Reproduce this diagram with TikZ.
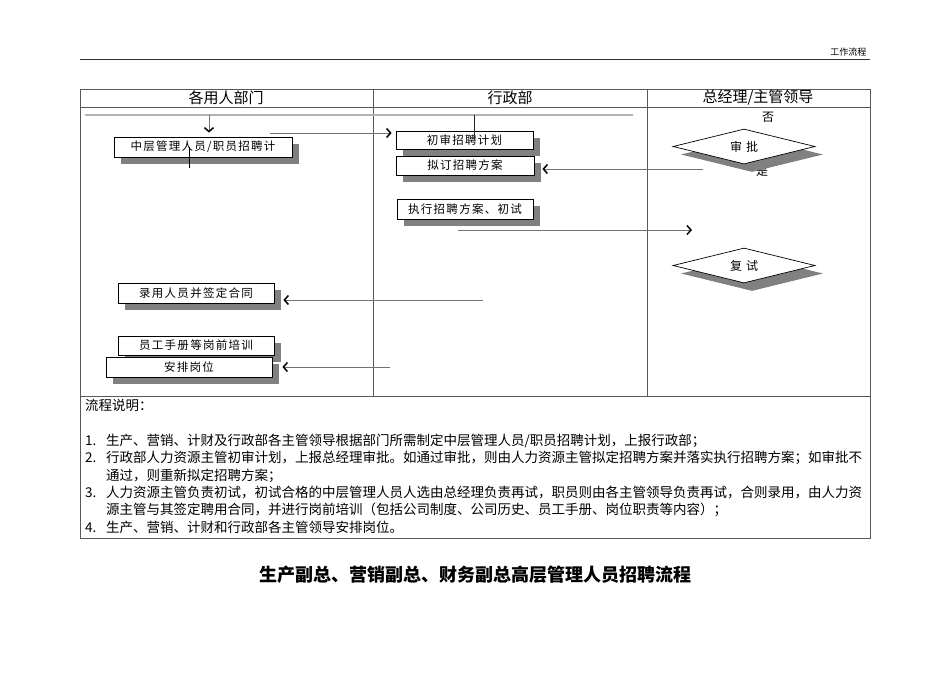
\documentclass[tikz,border=0pt]{standalone}
\usepackage{fontspec}
\setmainfont{Noto Sans CJK SC}
\newfontfamily\boxfont{Noto Sans CJK SC}[LetterSpace=11]
\usetikzlibrary{shapes.geometric,shadows,arrows.meta}

\begin{document}
\begin{tikzpicture}[x=1pt,y=-1pt,
    grid/.style={draw=black!65,line width=0.8pt},
    box/.style={draw=black,fill=white,line width=0.8pt,inner sep=0pt,
      font=\boxfont\fontsize{11.5}{13}\selectfont,
      drop shadow={shadow xshift=7pt,shadow yshift=-7pt,fill=black!50,opacity=1}},
    decision/.style={diamond,aspect=4,draw=black,fill=white,line width=0.7pt,inner sep=0pt,
      minimum width=142pt,minimum height=35pt,font=\fontsize{12}{14}\selectfont,
      drop shadow={shadow xshift=8pt,shadow yshift=-8pt,fill=black!50,opacity=1}},
    flow/.style={draw=black!55,line width=0.6pt,
      -{Straight Barb[length=4pt,width=9pt,line width=1.5pt,color=black]}},
    lane/.style={font=\fontsize{15}{17}\selectfont}]
  \useasboundingbox (0,0) rectangle (950,672);
  \draw[black!80,line width=0.9pt] (80,59) -- (870,59);
  \node[font=\fontsize{9}{11}\selectfont,anchor=east] (pagehead) at (870,52) {工作流程};
  \draw[grid] (80,89) rectangle (870,538);
  \draw[grid] (80,107) -- (870,107);
  \draw[grid] (80,396) -- (870,396);
  \draw[grid] (373,89) -- (373,396);
  \draw[grid] (647,89) -- (647,396);
  \node[lane] (dept) at (226,98) {各用人部门};
  \node[lane] (admin) at (510,98) {行政部};
  \node[lane] (boss) at (758,98) {总经理/主管领导};
  \draw[black!30,line width=1.6pt] (85,115) -- (633,115);
  \node[box,minimum width=178pt,minimum height=20pt] (plan) at (203,147) {中层管理人员/职员招聘计};
  \node[box,minimum width=137pt,minimum height=18pt] (review) at (464.5,140) {初审招聘计划};
  \node[box,minimum width=138pt,minimum height=19pt] (draft) at (465,165.5) {拟订招聘方案};
  \node[box,minimum width=136pt,minimum height=20pt] (exec) at (465,209) {执行招聘方案、初试};
  \node[font=\fontsize{12}{14}\selectfont] (no) at (768,117) {否};
  \node[font=\fontsize{12}{14}\selectfont] (yes) at (762,171) {是};
  \node[decision] (approve) at (744,146.5) {审\,\,批};
  \node[decision] (retest) at (744,265.5) {复\,\,试};
  \node[box,minimum width=156pt,minimum height=20pt] (hire) at (196,293) {录用人员并签定合同};
  \node[box,minimum width=156pt,minimum height=19pt] (train) at (196,345.5) {员工手册等岗前培训};
  \node[box,minimum width=166pt,minimum height=20pt] (post) at (189,367) {安排岗位};
  \coordinate (s1) at (209,115);
  \coordinate (s2) at (270,133);
  \coordinate (s3) at (474,115);
  \coordinate (s4) at (703,169);
  \coordinate (s5) at (458,230);
  \coordinate (s6) at (692,230);
  \coordinate (s7) at (483,300);
  \coordinate (s8) at (390,367);
  \coordinate (s9) at (189,147);
  \draw[flow,shorten >=4pt] (s1) -- (s1 |- plan.north);
  \draw[flow,shorten >=4pt] (s2) -- (s2 -| review.west);
  \draw[black!85,line width=0.7pt] (s3) -- (s3 |- review.center);
  \draw[flow,shorten >=8pt] (s4) -- (s4 -| draft.east);
  \draw[flow] (s5) -- (s6);
  \draw[flow,shorten >=9pt] (s7) -- (s7 -| hire.east);
  \draw[flow,shorten >=10pt] (s8) -- (s8 -| post.east);
  \draw[black,line width=0.7pt] (s9) -- ++(0,21);
  \node[anchor=north west,align=left,inner sep=0pt,font=\fontsize{13.5}{17.4}\selectfont] (notes) at (85,399) {%
    流程说明：\\
    \mbox{}\\
    \makebox[21pt][l]{1.}生产、营销、计财及行政部各主管领导根据部门所需制定中层管理人员/职员招聘计划，上报行政部；\\
    \makebox[21pt][l]{2.}行政部人力资源主管初审计划，上报总经理审批。如通过审批，则由人力资源主管拟定招聘方案并落实执行招聘方案；如审批不\\
    \hspace*{21pt}通过，则重新拟定招聘方案；\\
    \makebox[21pt][l]{3.}人力资源主管负责初试，初试合格的中层管理人员人选由总经理负责再试，职员则由各主管领导负责再试，合则录用，由人力资\\
    \hspace*{21pt}源主管与其签定聘用合同，并进行岗前培训（包括公司制度、公司历史、员工手册、岗位职责等内容）；\\
    \makebox[21pt][l]{4.}生产、营销、计财和行政部各主管领导安排岗位。};
  \node[font=\fontsize{18}{20}\selectfont\bfseries] (title) at (475,575) {生产副总、营销副总、财务副总高层管理人员招聘流程};
\end{tikzpicture}
\end{document}
